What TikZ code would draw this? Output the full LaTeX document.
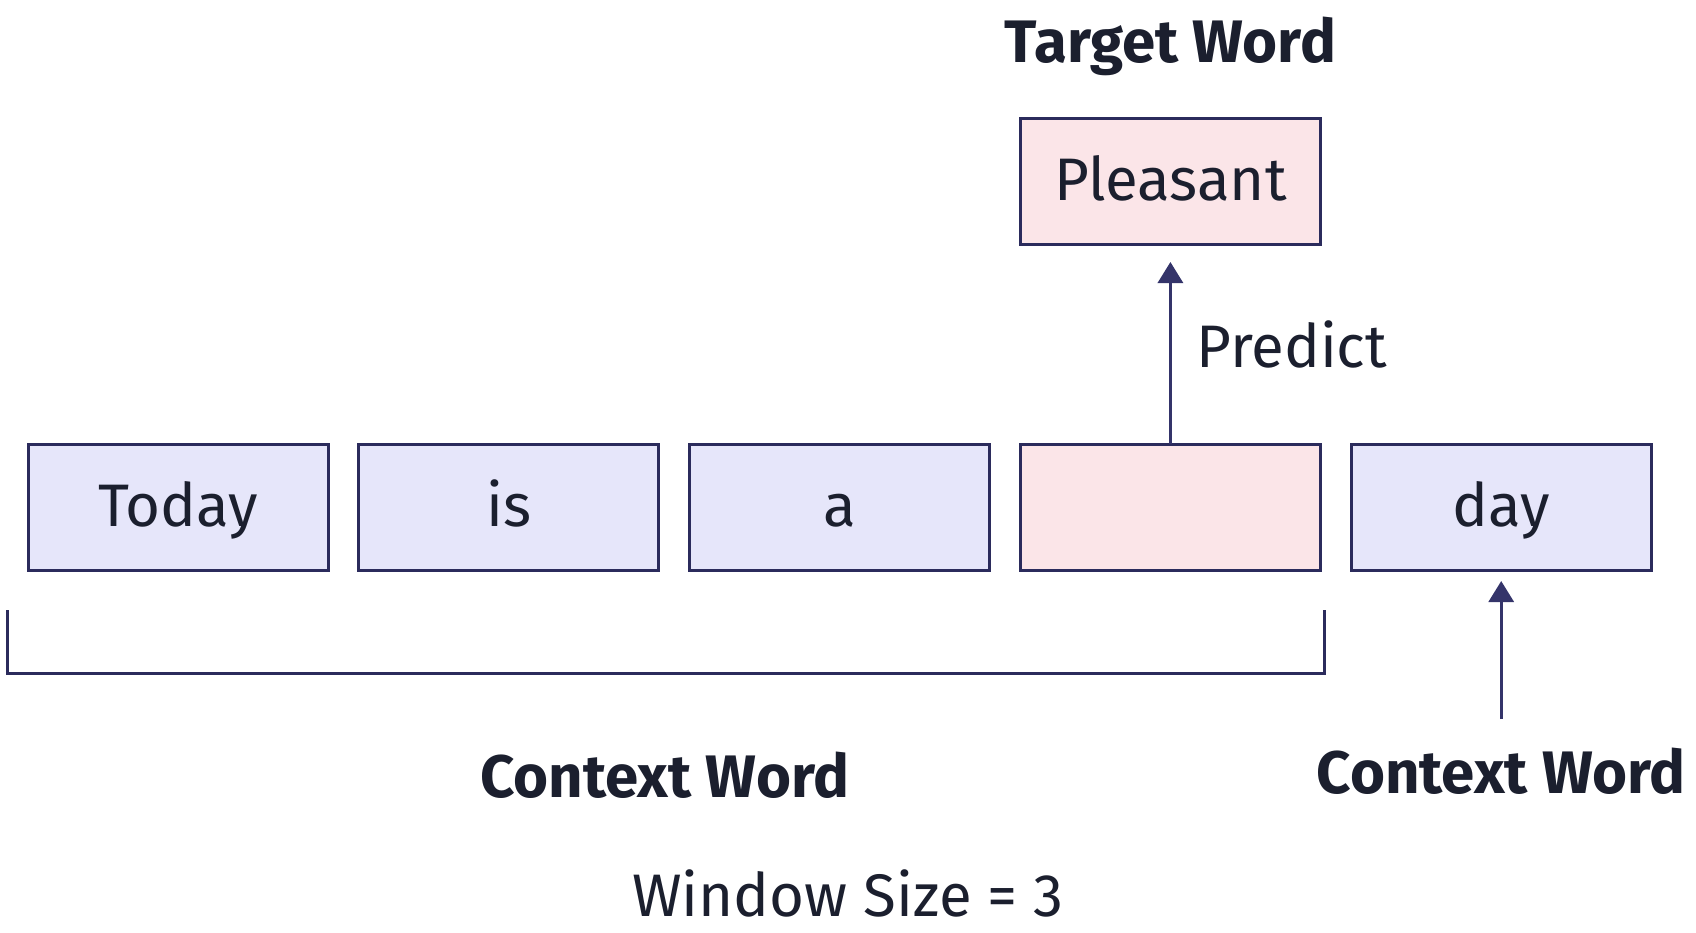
\documentclass[tikz,border=0pt]{standalone}
\usepackage{fontspec}
\setmainfont{Fira Sans}
\usepackage{xcolor}
\usetikzlibrary{arrows.meta,positioning}
\definecolor{boxline}{HTML}{2B2B5C}
\definecolor{arrowcol}{HTML}{34346A}
\definecolor{ctxfill}{HTML}{E6E6FA}
\definecolor{tgtfill}{HTML}{FBE5E8}
\definecolor{inkdark}{HTML}{1B1F2E}

\begin{document}
\begin{tikzpicture}[
  x=0.5pt,y=-0.5pt,
  every node/.style={text=inkdark},
  wordbox/.style={draw=boxline,line width=1.5pt,minimum width=150pt,minimum height=63pt,
    inner sep=0pt,outer sep=0pt,font=\fontsize{30}{36}\selectfont,text height=21.5pt,text depth=2.5pt},
  ctx/.style={wordbox,fill=ctxfill},
  tgt/.style={wordbox,fill=tgtfill},
  heading/.style={font=\fontsize{30}{36}\selectfont\bfseries,anchor=base},
  plain/.style={font=\fontsize{30}{36}\selectfont},
  arr/.style={-{Triangle[length=10.5pt,width=12.5pt]},line width=1.6pt,arrowcol},
  node distance=15.4pt
]
\useasboundingbox (0,0) rectangle (1696,932);
\node[ctx,anchor=north west] (today) at (28,444) {Today};
\node[ctx,right=of today] (is) {is};
\node[ctx,right=of is] (a) {a};
\node[tgt,right=of a] (blank) {};
\node[ctx,right=of blank] (day) {day};
\node[tgt,above=100pt of blank] (pleasant) {Pleasant};
\node[heading] (target) at (pleasant.north |- 0,62) {Target Word};
\draw[arr] (blank.north) -- ([yshift=-9pt]pleasant.south);
\node[plain,anchor=base west,inner sep=0pt] (predict) at (1196,367) {Predict};
\coordinate (dayfoot) at (day.south |- 0,719);
\draw[arr] (dayfoot) -- ([yshift=-5.5pt]day.south);
\draw[boxline,line width=1.5pt] (7,610) |- (1324,673) -- (1324,610);
\node[heading] (ctxleft) at (665,797) {Context Word};
\node[heading] (ctxright) at (day.south |- 0,793) {Context Word};
\node[plain,anchor=base] (window) at (848,916) {Window Size = 3};
\end{tikzpicture}
\end{document}
